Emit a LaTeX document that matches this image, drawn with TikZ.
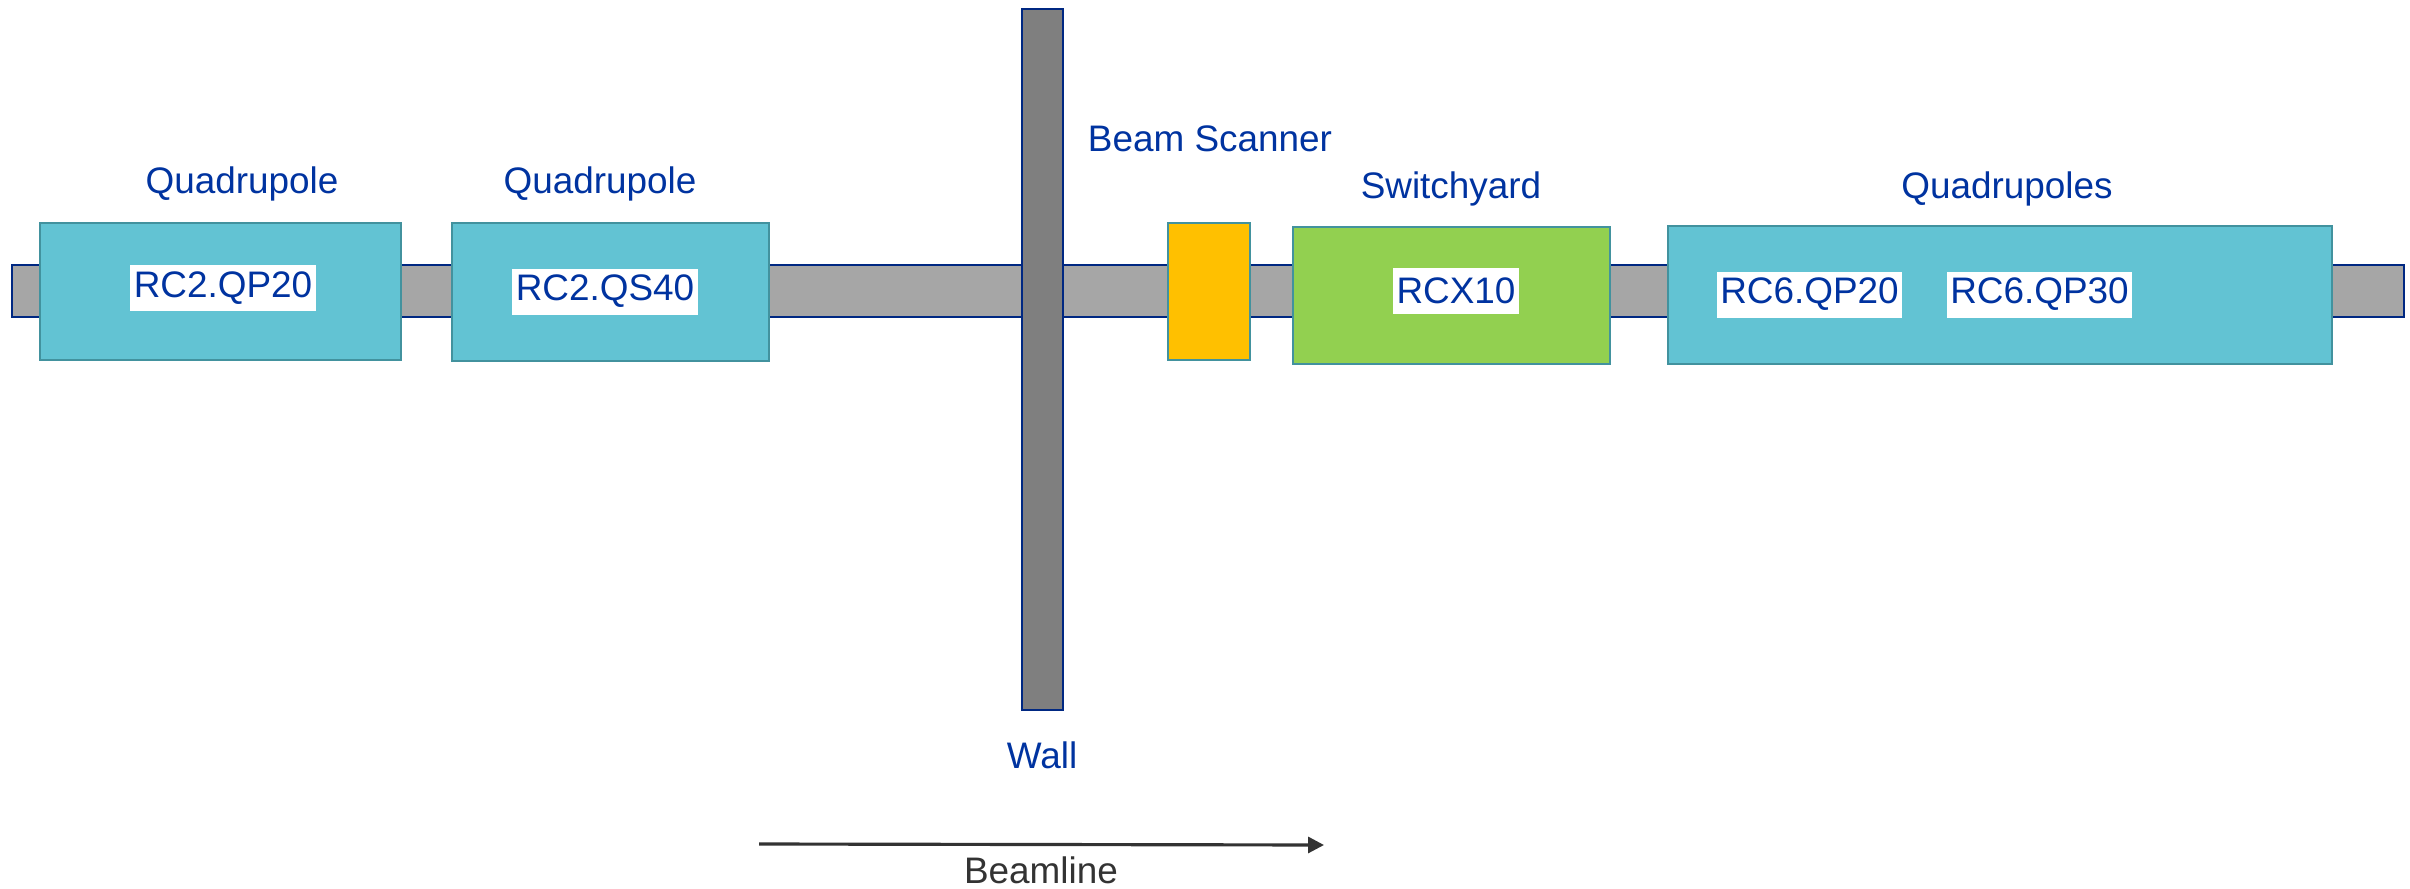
\documentclass[tikz,border=0pt]{standalone}
\usepackage{fontspec}
\setmainfont{Liberation Sans}
\usetikzlibrary{arrows.meta, positioning}

\definecolor{quadfill}{RGB}{98,195,211}
\definecolor{quadedge}{RGB}{66,146,158}
\definecolor{switchfill}{RGB}{146,208,80}
\definecolor{scanfill}{RGB}{255,192,0}
\definecolor{pipefill}{RGB}{166,166,166}
\definecolor{wallfill}{RGB}{127,127,127}
\definecolor{pipeedge}{RGB}{0,40,130}
\definecolor{textblue}{RGB}{0,51,160}
\definecolor{arrowgray}{RGB}{51,51,51}

\begin{document}
\begin{tikzpicture}[
    y=-1cm,
    magnet/.style={draw=quadedge, fill=quadfill, line width=0.8pt, inner sep=0pt, minimum height=1.37cm},
    tag/.style={fill=white, text=textblue, font=\fontsize{10.5}{12.6}\selectfont, inner xsep=1pt, inner ysep=0pt, minimum height=0.46cm},
    caption/.style={text=textblue, font=\fontsize{10.5}{12.6}\selectfont, anchor=base, inner sep=0pt},
    arrow/.style={-{Triangle[length=4.5pt, width=4.5pt]}, draw=arrowgray, line width=0.9pt}
]
\useasboundingbox (0,0) rectangle (24.10,8.89);

% Beam pipe
\node[draw=pipeedge, fill=pipefill, line width=0.8pt, inner sep=0pt, minimum width=23.92cm, minimum height=0.52cm] (pipe) at (12.08,2.91) {};

% Upstream quadrupoles
\node[magnet, minimum width=3.61cm] (qp20) at (2.205,2.915) {};
\node[tag] (qp20tag) at (2.23,2.88) {RC2.QP20};
\node[caption] (qp20cap) at (2.42,1.93) {Quadrupole};

\node[magnet, minimum width=3.17cm, minimum height=1.38cm] (qs40) at (6.105,2.92) {};
\node[tag] (qs40tag) at (6.05,2.915) {RC2.QS40};
\node[caption] (qs40cap) at (6.00,1.93) {Quadrupole};

% Wall
\node[draw=pipeedge, fill=wallfill, line width=0.8pt, inner sep=0pt, minimum width=0.41cm, minimum height=7.01cm] (wall) at (10.425,3.595) {};
\node[caption] (wallcap) at (10.42,7.68) {Wall};

% Beam scanner
\node[draw=quadedge, fill=scanfill, line width=0.8pt, inner sep=0pt, minimum width=0.82cm, minimum height=1.37cm] (scanner) at (12.09,2.915) {};
\node[caption] (scancap) at (12.10,1.51) {Beam Scanner};

% Switchyard
\node[magnet, fill=switchfill, minimum width=3.17cm] (rcx10) at (14.515,2.955) {};
\node[tag] (rcx10tag) at (14.56,2.905) {RCX10};
\node[caption] (rcx10cap) at (14.51,1.98) {Switchyard};

% Downstream quadrupoles
\node[magnet, minimum width=6.64cm, minimum height=1.38cm] (rc6) at (20.00,2.95) {};
\node[tag] (rc6qp20) at (18.095,2.945) {RC6.QP20};
\node[tag] (rc6qp30) at (20.395,2.945) {RC6.QP30};
\node[caption] (rc6cap) at (20.07,1.98) {Quadrupoles};

% Beam direction
\coordinate (beamstart) at (7.59,8.44);
\coordinate (beamend) at (13.24,8.45);
\draw[arrow] (beamstart) -- (beamend);
\node[caption, text=arrowgray] (beamcap) at (10.41,8.83) {Beamline};

\end{tikzpicture}
\end{document}
